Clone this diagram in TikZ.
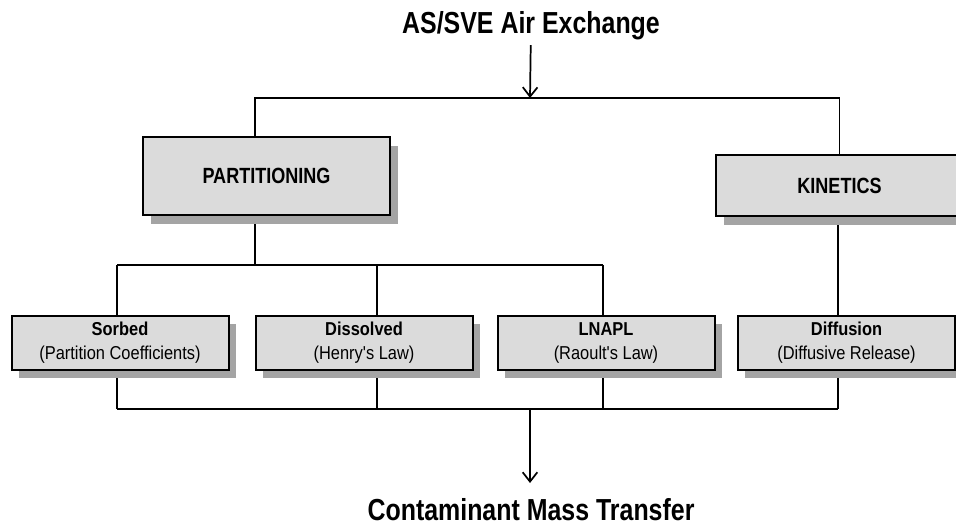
\documentclass[tikz,border=0pt]{standalone}
\usepackage{fontspec}
\newfontfamily\narrowsf[FakeStretch=0.82]{Liberation Sans}
\newfontfamily\boxsf[FakeStretch=0.88]{Liberation Sans}
\usetikzlibrary{arrows.meta,shadows,backgrounds}
\definecolor{boxgray}{HTML}{DBDBDB}
\definecolor{shadowgray}{HTML}{A4A4A4}

\begin{document}
\begin{tikzpicture}[x=0.75pt,y=-0.75pt,
  wire/.style={line width=1.3pt},
  flow/.style={line width=1.3pt,-{Straight Barb[length=7pt,width=11pt]}},
  heading/.style={anchor=base,font=\narrowsf\bfseries\fontsize{22.8}{26}\selectfont},
  bigbox/.style={draw,line width=1.5pt,fill=boxgray,minimum width=185pt,
    font=\narrowsf\bfseries\fontsize{16.5}{18}\selectfont,
    drop shadow={shadow xshift=6pt,shadow yshift=-7pt,fill=shadowgray,opacity=1}},
  smallbox/.style={draw,line width=1.5pt,fill=boxgray,minimum width=162.75pt,
    minimum height=40.5pt,align=center,inner sep=1pt,
    font=\boxsf\fontsize{14}{18}\selectfont,
    drop shadow={shadow xshift=5.5pt,shadow yshift=-6pt,fill=shadowgray,opacity=1}}]
\useasboundingbox (0,0) rectangle (956,527);

% titles
\node[heading] (exchange) at (531,34) {AS/SVE Air Exchange};
\node[heading] (transfer) at (531,520) {Contaminant Mass Transfer};

% boxes
\node[bigbox,minimum height=58.5pt] (partitioning) at (266.5,176) {PARTITIONING};
\node[bigbox,minimum height=45.75pt] (kinetics) at (839.5,185.5) {KINETICS};
\node[smallbox] (sorbed)    at (120,343) {\textbf{Sorbed}\\(Partition Coefficients)};
\node[smallbox] (dissolved) at (364,343) {\textbf{Dissolved}\\(Henry's Law)};
\node[smallbox] (lnapl)     at (606,343) {\textbf{LNAPL}\\(Raoult's Law)};
\node[smallbox] (diffusion) at (846.5,343) {\textbf{Diffusion}\\(Diffusive Release)};

% bus points
\coordinate (topbus) at (530,98);
\coordinate (midbus) at (255,265);
\coordinate (lowbus) at (530,409);
\coordinate (lowtip) at (530,483);
\foreach \n/\x in {sorbed/117,dissolved/377,lnapl/603,diffusion/838} {
  \coordinate (t\n) at (\x,265);
  \coordinate (b\n) at (\x,409);
}

\begin{scope}[on background layer]
\draw[flow] (exchange) -- (topbus);
\draw[wire] (partitioning.north -| midbus) |- (topbus) -| (kinetics.north);
\draw[wire] (partitioning.south -| midbus) -- (midbus);
\draw[wire] (tsorbed) -- (tlnapl);
\foreach \n in {sorbed,dissolved,lnapl}
  \draw[wire] (t\n) -- (t\n |- \n.north);
\draw[wire] (kinetics.south -| tdiffusion) -- (tdiffusion |- diffusion.north);
\foreach \n in {sorbed,dissolved,lnapl,diffusion}
  \draw[wire] (\n.south -| b\n) -- (b\n);
\draw[wire] (bsorbed) -- (bdiffusion);
\draw[flow] (lowbus) -- (lowtip);
\end{scope}
\end{tikzpicture}
\end{document}
